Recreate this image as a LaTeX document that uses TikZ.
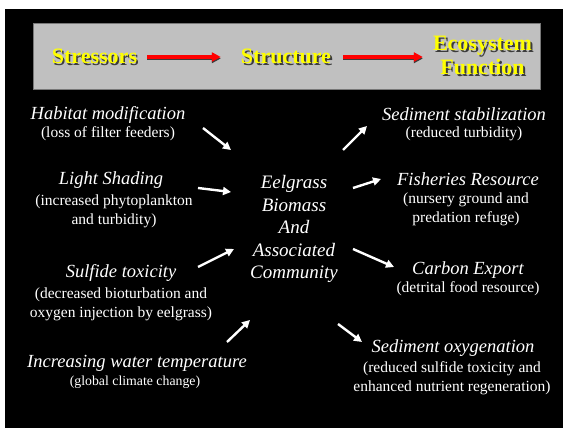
\documentclass[tikz,border=0pt]{standalone}
\usepackage{fontspec}
\setmainfont{Liberation Serif}
\usetikzlibrary{arrows.meta,positioning,calc}
\definecolor{SLIDE-GRAY}{RGB}{192, 192, 192}
\definecolor{SLIDE-EDGE}{RGB}{120, 120, 120}
\definecolor{SLIDE-YELLOW}{RGB}{255, 255, 0}
\definecolor{SLIDE-RED}{RGB}{255, 0, 0}
\definecolor{SLIDE-SHADOW}{RGB}{60, 60, 60}

\tikzset{
  headtxt/.style={font=\fontsize{22}{24}\selectfont\bfseries, text=SLIDE-YELLOW, inner sep=0pt, align=center},
  headshd/.style={font=\fontsize{22}{24}\selectfont\bfseries, text=SLIDE-SHADOW, inner sep=0pt, align=center},
  redarrow/.style={SLIDE-RED, line width=3.2pt, -{Triangle[length=9pt,width=9pt]}},
  redshd/.style={SLIDE-SHADOW, line width=3.2pt, -{Triangle[length=9pt,width=9pt]}},
  itemtitle/.style={font=\fontsize{18.5}{19}\selectfont\itshape, text=white, inner sep=0pt, align=center},
  itemsub/.style={font=\fontsize{15.5}{19}\selectfont, text=white, inner sep=0pt, align=center},
  itemsmall/.style={font=\fontsize{13.8}{17}\selectfont, text=white, inner sep=0pt, align=center},
  hub/.style={font=\fontsize{19}{22.5}\selectfont\itshape, text=white, inner sep=0pt, align=center},
  wharrow/.style={white, line width=2.4pt, -{Triangle[length=8pt,width=8pt]}}
}

\begin{document}
\begin{tikzpicture}[x=1pt, y=-1pt]
  \useasboundingbox (0,0) rectangle (563,428);
  % Background
  \fill[white] (0,0) rectangle (563,428);
  \fill[black] (5,9) rectangle (563,428);

  % Header band
  \fill[SLIDE-GRAY, draw=SLIDE-EDGE, line width=0.8pt] (33,23) rectangle (540,89);
  \node[headshd] at (96,58) {Stressors};
  \node[headtxt] (stress) at (94.5,56) {Stressors};
  \node[headshd] at (288,58) {Structure};
  \node[headtxt] (struct) at (286,56) {Structure};
  \node[headshd] at (484.5,57) {Ecosystem\\Function};
  \node[headtxt] (eco) at (482.5,55) {Ecosystem\\Function};

  % Header arrows
  \draw[redshd, shorten <=10pt, shorten >=20pt] ([yshift=-2.5pt]stress.east) -- ([yshift=-2.5pt]stress.east -| struct.west);
  \draw[redarrow, shorten <=10pt, shorten >=20pt] ([yshift=-1pt]stress.east) -- ([yshift=-1pt]stress.east -| struct.west);
  \draw[redshd, shorten <=12pt, shorten >=10pt] ([yshift=-2.5pt]struct.east) -- ([yshift=-2.5pt]struct.east -| eco.west);
  \draw[redarrow, shorten <=12pt, shorten >=10pt] ([yshift=-1pt]struct.east) -- ([yshift=-1pt]struct.east -| eco.west);

  % Central community
  \node[hub] (eelgrass) at (294,229) {Eelgrass\\Biomass\\And\\Associated\\Community};

  % Stressors (left)
  \node[itemtitle] (habT) at (108,115) {Habitat modification};
  \node[itemsub] (habS) at (108,134) {(loss of filter feeders)};
  \node[itemtitle] (lightT) at (111,180) {Light Shading};
  \node[itemsub] (lightS) at (114,211.5) {(increased phytoplankton\\and turbidity)};
  \node[itemtitle] (sulfT) at (121,273) {Sulfide toxicity};
  \node[itemsub] (sulfS) at (121,304) {(decreased bioturbation and\\oxygen injection by eelgrass)};
  \node[itemtitle] (tempT) at (137,363) {Increasing water temperature};
  \node[itemsmall] (tempS) at (135,382) {(global climate change)};

  % Ecosystem functions (right)
  \node[itemtitle] (stabT) at (464,114) {Sediment stabilization};
  \node[itemsub] (stabS) at (464,134) {(reduced turbidity)};
  \node[itemtitle] (fishT) at (468,179) {Fisheries Resource};
  \node[itemsub] (fishS) at (466,209.5) {(nursery ground and\\predation refuge)};
  \node[itemtitle] (carbT) at (468,270) {Carbon Export};
  \node[itemsub] (carbS) at (468,289) {(detrital food resource)};
  \node[itemtitle] (oxyT) at (453,348) {Sediment oxygenation};
  \node[itemsub] (oxyS) at (452,378.5) {(reduced sulfide toxicity and\\enhanced nutrient regeneration)};

  % Arrow ends
  \coordinate (habA) at (203,128);
  \coordinate (habB) at (231,150);
  \coordinate (lightA) at (198,188);
  \coordinate (lightB) at (231,192);
  \coordinate (sulfA) at (198,267);
  \coordinate (sulfB) at (234,249);
  \coordinate (tempA) at (227,342);
  \coordinate (tempB) at (250,320);
  \coordinate (stabA) at (343,150);
  \coordinate (stabB) at (367,126);
  \coordinate (fishA) at (353,188);
  \coordinate (fishB) at (381,179);
  \coordinate (carbA) at (353,249);
  \coordinate (carbB) at (394,267);
  \coordinate (oxyA) at (338,324);
  \coordinate (oxyB) at (362,342);

  % Arrows into and out of the community
  \draw[wharrow] (habA) -- (habB);
  \draw[wharrow] (lightA) -- (lightB);
  \draw[wharrow] (sulfA) -- (sulfB);
  \draw[wharrow] (tempA) -- (tempB);
  \draw[wharrow] (stabA) -- (stabB);
  \draw[wharrow] (fishA) -- (fishB);
  \draw[wharrow] (carbA) -- (carbB);
  \draw[wharrow] (oxyA) -- (oxyB);
\end{tikzpicture}
\end{document}
